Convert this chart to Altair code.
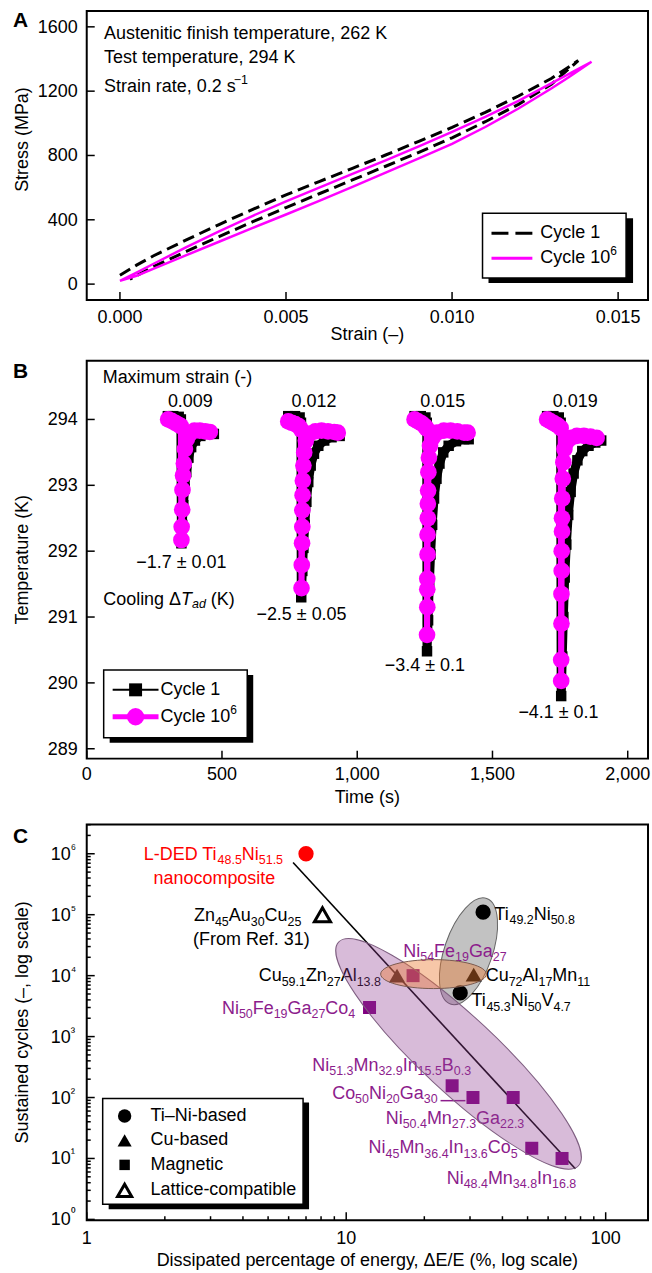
import re
import math
import altair as alt
import pandas as pd

FONT = "Liberation Sans"
W = 563
HA, HB, HC = 290, 399, 397
MAG = "#FF00FF"
PUR = "#800080"
PUR_TXT = "#8C1C8C"
RED = "#FF0000"

# ---------------- Panel A data (stress-strain loops) ----------------
a_x_domain = [-0.001, 0.0159]
a_y_domain = [-99, 1699]
a_x_ticks = [0.0, 0.005, 0.010, 0.015]
a_x_labels = ["0.000", "0.005", "0.010", "0.015"]
a_y_ticks = [0, 400, 800, 1200, 1600]
a_y_labels = ["0", "400", "800", "1200", "1600"]
a_c1_load_strain = [0.0000, 0.0005, 0.0010, 0.0020, 0.0030, 0.0040, 0.0050, 0.0060, 0.0070, 0.0080, 0.0090, 0.0100, 0.0110, 0.0120, 0.0130, 0.0138]
a_c1_load_stress = [55, 118, 175, 275, 372, 465, 555, 638, 720, 803, 888, 975, 1068, 1170, 1280, 1390]
a_c1_unload_strain = [0.0138, 0.0130, 0.0120, 0.0110, 0.0100, 0.0090, 0.0080, 0.0070, 0.0060, 0.0050, 0.0040, 0.0030, 0.0020, 0.0010, 0.0003]
a_c1_unload_stress = [1390, 1245, 1118, 1010, 910, 820, 733, 648, 562, 476, 388, 297, 203, 108, 30]
a_cm_load_strain = [0.0000, 0.0005, 0.0010, 0.0020, 0.0030, 0.0040, 0.0050, 0.0060, 0.0070, 0.0080, 0.0090, 0.0100, 0.0110, 0.0120, 0.0130, 0.0142]
a_cm_load_stress = [20, 72, 125, 230, 330, 425, 515, 600, 685, 770, 857, 947, 1040, 1140, 1250, 1383]
a_cm_unload_strain = [0.0142, 0.0135, 0.0130, 0.0120, 0.0110, 0.0100, 0.0090, 0.0080, 0.0070, 0.0060, 0.0050, 0.0040, 0.0030, 0.0020, 0.0010, 0.0005, 0.0000]
a_cm_unload_stress = [1383, 1285, 1218, 1092, 977, 872, 782, 693, 605, 518, 433, 350, 265, 180, 95, 52, 20]
a_note_text = ["Austenitic finish temperature, 262 K", "Test temperature, 294 K", "Strain rate, 0.2 s^{−1}"]
a_note_x = [-0.00048, -0.00048, -0.00048]
a_note_y = [1558, 1403, 1228]

# ---------------- Panel B data (temperature vs time) ----------------
b_x_domain = [0, 2075]
b_y_domain = [288.85, 294.89]
b_x_ticks = [0, 500, 1000, 1500, 2000]
b_x_labels = ["0", "500", "1,000", "1,500", "2,000"]
b_y_ticks = [289, 290, 291, 292, 293, 294]
b_y_labels = ["289", "290", "291", "292", "293", "294"]
b1_c1_t = [300, 320, 340, 348, 350, 353, 357, 362, 368, 376, 386, 400, 420, 445, 470]
b1_c1_T = [294.05, 294.05, 294.04, 294.0, 292.12, 292.4, 292.7, 292.95, 293.2, 293.42, 293.58, 293.68, 293.75, 293.78, 293.78]
b1_cm_t = [301, 314, 327, 340, 348, 350, 351, 353, 354, 356, 359, 363, 370, 380, 398, 418, 438, 455]
b1_cm_T = [294.0, 293.98, 293.95, 293.92, 293.9, 292.17, 292.37, 292.63, 292.93, 293.15, 293.33, 293.55, 293.7, 293.78, 293.83, 293.83, 293.82, 293.81]
b2_c1_t = [745, 770, 787, 792, 793, 797, 801, 806, 812, 819, 828, 840, 856, 878, 905, 935]
b2_c1_T = [294.05, 294.05, 294.03, 293.95, 291.3, 291.7, 292.05, 292.4, 292.75, 293.05, 293.3, 293.48, 293.6, 293.68, 293.73, 293.75]
b2_cm_t = [745, 758, 771, 784, 792, 794, 795, 796, 797, 797, 798, 799, 801, 804, 810, 822, 845, 868, 892, 915, 928]
b2_cm_T = [293.97, 293.95, 293.93, 293.9, 293.85, 291.44, 291.79, 292.12, 292.37, 292.62, 292.85, 293.07, 293.3, 293.5, 293.68, 293.78, 293.82, 293.83, 293.82, 293.81, 293.8]
b3_c1_t = [1212, 1235, 1252, 1257, 1258, 1262, 1266, 1271, 1277, 1284, 1293, 1304, 1318, 1338, 1365, 1395, 1412]
b3_c1_T = [294.05, 294.05, 294.03, 293.95, 290.48, 290.95, 291.45, 291.95, 292.4, 292.8, 293.1, 293.33, 293.5, 293.6, 293.67, 293.7, 293.7]
b3_cm_t = [1212, 1225, 1238, 1250, 1257, 1258, 1259, 1259, 1259, 1260, 1260, 1261, 1261, 1262, 1263, 1265, 1269, 1278, 1295, 1320, 1345, 1370, 1395, 1408]
b3_cm_T = [294.0, 293.97, 293.94, 293.9, 293.86, 290.73, 291.15, 291.42, 291.58, 291.95, 292.25, 292.5, 292.72, 292.92, 293.2, 293.42, 293.6, 293.72, 293.8, 293.83, 293.83, 293.82, 293.8, 293.8]
b4_c1_t = [1702, 1725, 1745, 1752, 1754, 1758, 1762, 1767, 1773, 1780, 1789, 1800, 1814, 1832, 1855, 1880, 1902]
b4_c1_T = [294.05, 294.05, 294.03, 293.95, 289.8, 290.4, 291.0, 291.6, 292.1, 292.55, 292.9, 293.18, 293.38, 293.52, 293.6, 293.65, 293.68]
b4_cm_t = [1702, 1715, 1728, 1741, 1752, 1754, 1754, 1755, 1755, 1756, 1756, 1757, 1757, 1758, 1760, 1762, 1766, 1774, 1790, 1812, 1838, 1862, 1885]
b4_cm_T = [294.0, 293.97, 293.94, 293.91, 293.87, 290.03, 290.35, 290.9, 291.35, 291.7, 292.0, 292.3, 292.5, 292.8, 293.1, 293.35, 293.55, 293.66, 293.72, 293.75, 293.75, 293.74, 293.72]
b_note_text = ["Maximum strain (-)", "0.009", "0.012", "0.015", "0.019",
               "−1.7 ± 0.01", "−2.5 ± 0.05", "−3.4 ± 0.1", "−4.1 ± 0.1", "Cooling Δ*{T}~{ad} (K)"]
b_note_x = [59, 383, 840, 1316, 1806, 350, 794, 1250, 1744, 61]
b_note_y = [294.625, 294.27, 294.27, 294.27, 294.27, 291.82, 291.03, 290.25, 289.55, 291.26]
b_note_align = ["left", "center", "center", "center", "center", "center", "center", "center", "center", "left"]

# ---------------- Panel C data (cycles vs dissipated energy) ----------------
c_x_domain = [1, 145.6]
c_y_domain = [0.97, 3.03e6]
c_x_ticks = [1, 10, 100]
c_x_labels = ["1", "10", "100"]
c_y_ticks = [1, 10, 100, 1e3, 1e4, 1e5, 1e6]
c_y_exp = ["⁰", "¹", "²", "³", "⁴", "⁵", "⁶"]
c_circle_x = [7.0, 33.7, 27.5]
c_circle_y = [1.0e6, 1.1e5, 5.2e3]
c_circle_col = [RED, "black", "black"]
c_tri_x = [15.7, 31.0]
c_tri_y = [1.0e4, 1.04e4]
c_open_x = [8.1]
c_open_y = [1.0e5]
c_sq_x = [18.1, 12.3, 25.6, 30.8, 44.0, 51.9, 67.9]
c_sq_y = [1.0e4, 3.0e3, 156, 100, 100, 14.7, 10]
c_fit_x = [6.24, 76.4]
c_fit_y = [7.2e5, 6.8]
c_lead_x = [23.1, 28.8]
c_lead_y = [88.8, 88.8]
c_ell_x = [27.1, 29.6, 21.7]   # magnetic, Ti-Ni, Cu-based groups
c_ell_y = [520, 2.51e4, 1.06e4]
c_lab_text = ["L-DED Ti_{48.5}Ni_{51.5}", "nanocomposite", "Zn_{45}Au_{30}Cu_{25}", "(From Ref. 31)",
              "Cu_{59.1}Zn_{27}Al_{13.8}", "Ni_{50}Fe_{19}Ga_{27}Co_{4}", "Ti_{49.2}Ni_{50.8}", "Ni_{54}Fe_{19}Ga_{27}",
              "Cu_{72}Al_{17}Mn_{11}", "Ti_{45.3}Ni_{50}V_{4.7}", "Ni_{51.3}Mn_{32.9}In_{15.5}B_{0.3}",
              "Co_{50}Ni_{20}Ga_{30}", "Ni_{50.4}Mn_{27.3}Ga_{22.3}", "Ni_{45}Mn_{36.4}In_{13.6}Co_{5}",
              "Ni_{48.4}Mn_{34.8}In_{16.8}"]
c_lab_x = [1.66, 1.81, 2.59, 2.57, 4.60, 3.32, 37.3, 16.6, 34.5, 30.4, 7.40, 8.83, 14.2, 12.2, 24.4]
c_lab_y = [7.98e5, 3.15e5, 7.74e4, 3.22e4, 8.11e3, 2.37e3, 8.26e4, 2.05e4, 8.1e3, 3.16e3, 274, 94.6, 36.9, 12.2, 3.86]
c_lab_col = [RED, RED, "black", "black", "black", PUR_TXT, "black", PUR_TXT, "black", "black",
             PUR_TXT, PUR_TXT, PUR_TXT, PUR_TXT, PUR_TXT]

# ---------------- text helpers (Arial/Liberation Sans metrics) ----------------
ADV = {' ': 278, '!': 278, '(': 333, ')': 333, ',': 278, '-': 333, '.': 278, '–': 556,
       '−': 584, '±': 549, 'Δ': 668, 'A': 667, 'B': 667, 'C': 722, 'D': 722, 'E': 667, 'F': 611,
       'G': 778, 'I': 278, 'K': 667, 'L': 556, 'M': 833, 'N': 722, 'R': 722, 'T': 611, 'V': 667,
       'Z': 611, 'a': 556, 'b': 556, 'c': 500, 'd': 556, 'e': 556, 'f': 278, 'g': 556, 'h': 556,
       'i': 222, 'l': 222, 'm': 833, 'n': 556, 'o': 556, 'p': 556, 'r': 333, 's': 500, 't': 278,
       'u': 556, 'x': 500, 'y': 500}
for _d in "0123456789":
    ADV[_d] = 556

KIND = {
    'n': dict(fontSize=18),
    's': dict(fontSize=12.5, dy=4.5),
    'u': dict(fontSize=12.5, dy=-7),
    'i': dict(fontSize=18, fontStyle='italic'),
    'is': dict(fontSize=12.5, dy=4.5, fontStyle='italic'),
}


def tw(s, size):
    return sum(ADV.get(c, 556) for c in s) * size / 1000.0


def parse(markup):
    out, pos = [], 0
    for m in re.finditer(r'([_^*~])\{([^}]*)\}', markup):
        if m.start() > pos:
            out.append((markup[pos:m.start()], 'n'))
        out.append((m.group(2), {'_': 's', '^': 'u', '*': 'i', '~': 'is'}[m.group(1)]))
        pos = m.end()
    if pos < len(markup):
        out.append((markup[pos:], 'n'))
    return out


def chunks(markup, x, y, shift, align='left', color='black'):
    toks = parse(markup)
    widths = [tw(t, KIND[k]['fontSize']) for t, k in toks]
    total = sum(widths)
    off = {'left': 0.0, 'center': -total / 2.0, 'right': -total}[align]
    rows = []
    for (t, k), w in zip(toks, widths):
        lead = len(t) - len(t.lstrip(' '))
        body = t.strip(' ')
        if body:
            x_off = off + tw(' ' * lead, KIND[k]['fontSize'])
            rows.append(dict(text=body, kind=k, x=shift(x, x_off), y=y, color=color))
        off += w
    return rows


def text_layers(rows, xs, ys, baseline):
    df = pd.DataFrame(rows)
    out = []
    for k, props in KIND.items():
        sub = df[df['kind'] == k]
        if len(sub) == 0:
            continue
        out.append(alt.Chart(sub).mark_text(align='left', baseline=baseline, font=FONT, **props).encode(
            x=alt.X('x:Q', scale=xs, axis=None), y=alt.Y('y:Q', scale=ys, axis=None),
            text='text:N', color=alt.Color('color:N', scale=None)))
    return out


ONE = pd.DataFrame({'k': [0]})


def prect(x1, x2, y1, y2, **kw):
    return alt.Chart(ONE).mark_rect(**kw).encode(x=alt.value(x1), x2=alt.value(x2), y=alt.value(y1), y2=alt.value(y2))


def prule(x1, x2, y, **kw):
    return alt.Chart(ONE).mark_rule(**kw).encode(x=alt.value(x1), x2=alt.value(x2), y=alt.value(y))


def ptext(x, y, s, **kw):
    props = dict(font=FONT, fontSize=18, align='left', baseline='middle', color='black')
    props.update(kw)
    return alt.Chart(ONE).mark_text(text=s, **props).encode(x=alt.value(x), y=alt.value(y))


def ppoint(x, y, **kw):
    props = dict(opacity=1)
    props.update(kw)
    return alt.Chart(ONE).mark_point(**props).encode(x=alt.value(x), y=alt.value(y))


def xticks(vals, xs, H, L):
    return alt.Chart(pd.DataFrame({'v': vals})).mark_rule(color='black', strokeWidth=1.5).encode(
        x=alt.X('v:Q', scale=xs, axis=None), y=alt.value(H), y2=alt.value(H - L))


def yticks(vals, ys, L):
    return alt.Chart(pd.DataFrame({'v': vals})).mark_rule(color='black', strokeWidth=1.5).encode(
        y=alt.Y('v:Q', scale=ys, axis=None), x=alt.value(0), x2=alt.value(L))


def xlabels(vals, labels, xs, ypx):
    return alt.Chart(pd.DataFrame({'v': vals, 't': labels})).mark_text(
        align='center', baseline='middle', font=FONT, fontSize=18, color='black').encode(
        x=alt.X('v:Q', scale=xs, axis=None), y=alt.value(ypx), text='t:N')


def ylabels(vals, labels, ys, xpx=-9):
    return alt.Chart(pd.DataFrame({'v': vals, 't': labels})).mark_text(
        align='right', baseline='middle', font=FONT, fontSize=18, color='black', dy=1).encode(
        y=alt.Y('v:Q', scale=ys, axis=None), x=alt.value(xpx), text='t:N')


def ytitle(s, ypx):
    return ptext(-59, ypx, s, angle=270, align='center', baseline='alphabetic')


def xtitle(s, ypx):
    return ptext(W / 2, ypx, s, align='center', baseline='alphabetic')


def ellipse_path(r):
    k = 0.5523
    return (f"M -1 0 C -1 {-k*r:.4f} {-k:.4f} {-r:.4f} 0 {-r:.4f} C {k:.4f} {-r:.4f} 1 {-k*r:.4f} 1 0 "
            f"C 1 {k*r:.4f} {k:.4f} {r:.4f} 0 {r:.4f} C {-k:.4f} {r:.4f} -1 {k*r:.4f} -1 0 Z")


# ======================= Panel A =======================
XA = alt.Scale(domain=a_x_domain, nice=False, zero=False)
YA = alt.Scale(domain=a_y_domain, nice=False, zero=False)
pxA = W / (a_x_domain[1] - a_x_domain[0])
shiftA = lambda x, d: x + d / pxA


def loop_df(s1, v1, s2, v2):
    s = list(s1) + list(s2)
    v = list(v1) + list(v2)
    return pd.DataFrame({'strain': s, 'stress': v, 'o': list(range(len(s)))})


dfA1 = loop_df(a_c1_load_strain, a_c1_load_stress, a_c1_unload_strain, a_c1_unload_stress)
dfAm = loop_df(a_cm_load_strain, a_cm_load_stress, a_cm_unload_strain, a_cm_unload_stress)

a_layers = [
    alt.Chart(dfA1).mark_line(color='black', strokeWidth=3, strokeDash=[12, 6]).encode(
        x=alt.X('strain:Q', scale=XA, axis=None), y=alt.Y('stress:Q', scale=YA, axis=None), order='o:Q'),
    alt.Chart(dfAm).mark_line(color=MAG, strokeWidth=2.5).encode(
        x=alt.X('strain:Q', scale=XA, axis=None), y=alt.Y('stress:Q', scale=YA, axis=None), order='o:Q'),
    xticks(a_x_ticks, XA, HA, 8),
    yticks(a_y_ticks, YA, 8),
    xlabels(a_x_ticks, a_x_labels, XA, HA + 18.5),
    ylabels(a_y_ticks, a_y_labels, YA),
    xtitle('Strain (–)', HA + 40.5),
    ytitle('Stress (MPa)', 129),
]
a_rows = []
for t, x, y in zip(a_note_text, a_note_x, a_note_y):
    a_rows += chunks(t, x, y, shiftA)
a_layers += text_layers(a_rows, XA, YA, 'middle')
a_layers += [
    prect(403, 548, 208, 273, fill='black'),
    prect(397, 541, 203, 268, fill='white', stroke='black', strokeWidth=1.5),
    prule(406, 447, 223, color='black', strokeWidth=3, strokeDash=[17, 7]),
    prule(406, 447, 248, color=MAG, strokeWidth=3),
    ptext(455, 223, 'Cycle 1'),
    ptext(455, 248, 'Cycle 10'),
    ptext(525, 248, '6', fontSize=12, dy=-7),
    ptext(-74, 16, 'A', fontSize=21, fontWeight='bold', baseline='alphabetic'),
]
panelA = alt.layer(*a_layers).properties(width=W, height=HA)

# ======================= Panel B =======================
XB = alt.Scale(domain=b_x_domain, nice=False, zero=False)
YB = alt.Scale(domain=b_y_domain, nice=False, zero=False)
pxB = W / (b_x_domain[1] - b_x_domain[0])
shiftB = lambda x, d: x + d / pxB


def ev_df(events):
    rows = []
    for ev, (ts, Ts) in enumerate(events):
        for i, (t, T) in enumerate(zip(ts, Ts)):
            rows.append(dict(t=t, T=T, ev=ev, o=i))
    return pd.DataFrame(rows)


dfB1 = ev_df([(b1_c1_t, b1_c1_T), (b2_c1_t, b2_c1_T), (b3_c1_t, b3_c1_T), (b4_c1_t, b4_c1_T)])
dfBm = ev_df([(b1_cm_t, b1_cm_T), (b2_cm_t, b2_cm_T), (b3_cm_t, b3_cm_T), (b4_cm_t, b4_cm_T)])

b_layers = [
    alt.Chart(dfB1).mark_line(color='black', strokeWidth=9).encode(
        x=alt.X('t:Q', scale=XB, axis=None), y=alt.Y('T:Q', scale=YB, axis=None), detail='ev:N', order='o:Q'),
    alt.Chart(dfB1).mark_point(shape='square', filled=True, size=110, color='black', opacity=1).encode(
        x=alt.X('t:Q', scale=XB, axis=None), y=alt.Y('T:Q', scale=YB, axis=None)),
    alt.Chart(dfBm).mark_line(color=MAG, strokeWidth=6).encode(
        x=alt.X('t:Q', scale=XB, axis=None), y=alt.Y('T:Q', scale=YB, axis=None), detail='ev:N', order='o:Q'),
    alt.Chart(dfBm).mark_point(shape='circle', filled=True, size=280, color=MAG, opacity=1).encode(
        x=alt.X('t:Q', scale=XB, axis=None), y=alt.Y('T:Q', scale=YB, axis=None)),
    xticks(b_x_ticks, XB, HB, 8),
    yticks(b_y_ticks, YB, 8),
    xlabels(b_x_ticks, b_x_labels, XB, HB + 16),
    ylabels(b_y_ticks, b_y_labels, YB),
    xtitle('Time (s)', HB + 44.5),
    ytitle('Temperature (K)', HB / 2),
]
b_rows = []
for t, x, y, al in zip(b_note_text, b_note_x, b_note_y, b_note_align):
    b_rows += chunks(t, x, y, shiftB, align=al)
b_layers += text_layers(b_rows, XB, YB, 'middle')
b_layers += [
    prect(23, 167, 315, 383, fill='black'),
    prect(17, 161, 310, 378, fill='white', stroke='black', strokeWidth=1.5),
    prule(26, 72, 330, color='black', strokeWidth=2),
    ppoint(49, 330, shape='square', filled=True, size=169, color='black'),
    prule(26, 72, 357, color=MAG, strokeWidth=5),
    ppoint(49, 357, shape='circle', filled=True, size=300, color=MAG),
    ptext(74, 330, 'Cycle 1'),
    ptext(74, 357, 'Cycle 10'),
    ptext(144, 357, '6', fontSize=12, dy=-7),
    ptext(-74, 17, 'B', fontSize=21, fontWeight='bold', baseline='alphabetic'),
]
panelB = alt.layer(*b_layers).properties(width=W, height=HB)

# ======================= Panel C =======================
XC = alt.Scale(type='log', domain=c_x_domain, nice=False)
YC = alt.Scale(type='log', domain=c_y_domain, nice=False)
ppdC = W / (math.log10(c_x_domain[1]) - math.log10(c_x_domain[0]))
shiftC = lambda x, d: x * 10 ** (d / ppdC)

c_x_minor = [m * 10 ** k for k in range(0, 2) for m in range(2, 10)]
c_y_minor = [m * 10 ** k for k in range(0, 7) for m in range(2, 10) if m * 10 ** k < c_y_domain[1]]


def cxy():
    return dict(x=alt.X('x:Q', scale=XC, axis=None), y=alt.Y('y:Q', scale=YC, axis=None))


df_fit = pd.DataFrame({'x': c_fit_x, 'y': c_fit_y})
df_lead = pd.DataFrame({'x': c_lead_x, 'y': c_lead_y})
df_circ = pd.DataFrame({'x': c_circle_x, 'y': c_circle_y, 'col': c_circle_col})
df_tri = pd.DataFrame({'x': c_tri_x, 'y': c_tri_y})
df_open = pd.DataFrame({'x': c_open_x, 'y': c_open_y})
df_sq = pd.DataFrame({'x': c_sq_x, 'y': c_sq_y})
df_ell = [pd.DataFrame({'x': [c_ell_x[i]], 'y': [c_ell_y[i]]}) for i in range(3)]

c_layers = [
    alt.Chart(df_fit).mark_line(color='black', strokeWidth=1.6).encode(**cxy()),
    alt.Chart(df_ell[1]).mark_point(shape=ellipse_path(0.43), size=4 * 56 ** 2, angle=109, filled=True,
                                    fill='#A8A8A8', fillOpacity=0.7, stroke='#666666', strokeWidth=1,
                                    opacity=1).encode(**cxy()),
    alt.Chart(df_circ).mark_point(shape='circle', filled=True, size=235, opacity=1).encode(
        color=alt.Color('col:N', scale=None), **cxy()),
    alt.Chart(df_tri).mark_point(shape='triangle-up', filled=True, size=260, color='black', opacity=1).encode(**cxy()),
    alt.Chart(df_open).mark_point(shape='triangle-up', filled=False, size=260, color='black', strokeWidth=3,
                                  opacity=1).encode(**cxy()),
    alt.Chart(df_sq).mark_point(shape='square', filled=True, size=170, color=PUR, opacity=1).encode(**cxy()),
    alt.Chart(df_lead).mark_line(color=PUR_TXT, strokeWidth=1.5).encode(**cxy()),
]
c_rows = []
for t, x, y, col in zip(c_lab_text, c_lab_x, c_lab_y, c_lab_col):
    c_rows += chunks(t, x, y, shiftC, color=col)
c_layers += text_layers(c_rows, XC, YC, 'alphabetic')
c_layers += [
    alt.Chart(df_ell[0]).mark_point(shape=ellipse_path(0.231), size=4 * 164.5 ** 2, angle=43, filled=True,
                                    fill='#8E3C92', fillOpacity=0.35, stroke='#7E5E80', strokeWidth=1,
                                    opacity=1).encode(**cxy()),
    alt.Chart(df_ell[2]).mark_point(shape=ellipse_path(0.274), size=4 * 53 ** 2, angle=0, filled=True,
                                    fill='#EB7A30', fillOpacity=0.42, stroke='#7A5A50', strokeWidth=1,
                                    opacity=1).encode(**cxy()),
    xticks(c_x_ticks, XC, HC, 8),
    xticks(c_x_minor, XC, HC, 4),
    yticks(c_y_ticks, YC, 8),
    yticks(c_y_minor, YC, 4),
    xlabels(c_x_ticks, c_x_labels, XC, HC + 18.5),
    xtitle('Dissipated percentage of energy, ΔE/E (%, log scale)', HC + 46),
    ytitle('Sustained cycles (–, log scale)', HC / 2),
]
df_ylab = pd.DataFrame({'v': c_y_ticks, 'e': c_y_exp})
c_layers += [
    alt.Chart(df_ylab).mark_text(align='right', baseline='middle', font=FONT, fontSize=18, text='10', dy=1).encode(
        x=alt.value(-16), y=alt.Y('v:Q', scale=YC, axis=None)),
    alt.Chart(df_ylab).mark_text(align='left', baseline='middle', font=FONT, fontSize=13, dy=-5).encode(
        x=alt.value(-16), y=alt.Y('v:Q', scale=YC, axis=None), text='e:N'),
]
c_layers += [
    prect(22, 223, 279, 386, fill='black'),
    prect(16, 217, 275, 381, fill='white', stroke='black', strokeWidth=1.5),
    ppoint(38, 292.5, shape='circle', filled=True, size=180, color='black'),
    ppoint(38, 317, shape='triangle-up', filled=True, size=200, color='black'),
    ppoint(38, 341.5, shape='square', filled=True, size=110, color='black'),
    ppoint(38, 367, shape='triangle-up', filled=False, size=200, color='black', strokeWidth=3),
    ptext(64, 292.5, 'Ti–Ni-based'),
    ptext(64, 317, 'Cu-based'),
    ptext(64, 341.5, 'Magnetic'),
    ptext(64, 367, 'Lattice-compatible'),
    ptext(-74, 19, 'C', fontSize=21, fontWeight='bold', baseline='alphabetic'),
]
panelC = alt.layer(*c_layers).properties(width=W, height=HC)

chart = alt.vconcat(panelA, panelB, panelC, spacing=14).properties(
    padding={'left': 12, 'top': 7, 'right': 0, 'bottom': 0}
).configure(font=FONT).configure_view(stroke='black', strokeWidth=2).configure_text(font=FONT)

chart.save("out.html", embed_options={"renderer": "svg", "actions": False})
